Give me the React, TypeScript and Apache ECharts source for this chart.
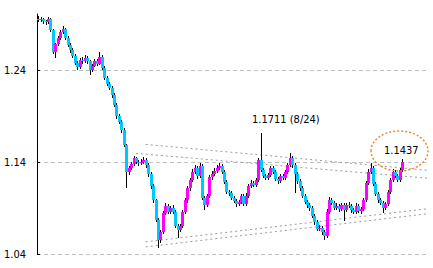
import React, { useEffect, useRef } from 'react';
import * as echarts from 'echarts';

const opens = [
  1.2960,1.2943,1.2954,1.2933,1.2922,1.2954,1.2835,1.2596,1.2683,1.2748,
  1.2813,1.2846,1.2748,1.2672,1.2617,1.2552,1.2476,1.2433,1.2509,1.2498,
  1.2531,1.2498,1.2400,1.2444,1.2498,1.2465,1.2541,1.2422,1.2313,1.2248,
  1.2204,1.2128,1.2020,1.1900,1.1835,1.1748,1.1585,1.1291,1.1335,1.1378,
  1.1444,1.1400,1.1389,1.1400,1.1422,1.1367,1.1270,1.1139,1.0987,1.0770,
  1.0552,1.0639,1.0846,1.0922,1.0857,1.0900,1.0857,1.0704,1.0661,1.0704,
  1.0857,1.0987,1.1117,1.1204,1.1291,1.1335,1.1248,1.1357,1.1009,1.0933,
  1.1030,1.1237,1.1270,1.1302,1.1335,1.1357,1.1291,1.1183,1.1074,1.1063,
  1.1009,1.0976,1.0943,1.0965,1.1030,1.0943,1.1030,1.1139,1.1172,1.1150,
  1.1204,1.1422,1.1313,1.1248,1.1226,1.1259,1.1335,1.1291,1.1215,1.1193,
  1.1248,1.1226,1.1291,1.1367,1.1444,1.1367,1.1270,1.1193,1.1117,1.1030,
  1.0965,1.0933,1.0900,1.0813,1.0748,1.0672,1.0683,1.0639,1.0596,1.0857,
  1.0987,1.0954,1.0900,1.0922,1.0889,1.0933,1.0878,1.0933,1.0922,1.0878,
  1.0857,1.0922,1.0867,1.0889,1.0987,1.1172,1.1291,1.1335,1.1161,1.1052,
  1.0987,1.0954,1.0900,1.0943,1.1074,1.1204,1.1291,1.1248,1.1204,1.1313,
];

const closes = [
  1.2943,1.2954,1.2933,1.2922,1.2954,1.2835,1.2596,1.2683,1.2748,1.2813,
  1.2846,1.2748,1.2672,1.2617,1.2552,1.2476,1.2433,1.2509,1.2498,1.2531,
  1.2498,1.2400,1.2444,1.2498,1.2465,1.2541,1.2422,1.2313,1.2248,1.2204,
  1.2128,1.2020,1.1900,1.1835,1.1748,1.1585,1.1291,1.1335,1.1378,1.1444,
  1.1400,1.1389,1.1400,1.1422,1.1367,1.1270,1.1139,1.0987,1.0770,1.0552,
  1.0639,1.0846,1.0922,1.0857,1.0900,1.0857,1.0704,1.0661,1.0704,1.0857,
  1.0987,1.1117,1.1204,1.1291,1.1335,1.1248,1.1357,1.1009,1.0933,1.1030,
  1.1237,1.1270,1.1302,1.1335,1.1357,1.1291,1.1183,1.1074,1.1063,1.1009,
  1.0976,1.0943,1.0965,1.1030,1.0943,1.1030,1.1139,1.1172,1.1150,1.1204,
  1.1422,1.1313,1.1248,1.1226,1.1259,1.1335,1.1291,1.1215,1.1193,1.1248,
  1.1226,1.1291,1.1367,1.1444,1.1367,1.1270,1.1193,1.1117,1.1030,1.0965,
  1.0933,1.0900,1.0813,1.0748,1.0672,1.0683,1.0639,1.0596,1.0857,1.0987,
  1.0954,1.0900,1.0922,1.0889,1.0933,1.0878,1.0933,1.0922,1.0878,1.0857,
  1.0922,1.0867,1.0889,1.0987,1.1172,1.1291,1.1335,1.1161,1.1052,1.0987,
  1.0954,1.0900,1.0943,1.1074,1.1204,1.1291,1.1248,1.1204,1.1313,1.1400,
];

const highs = [
  1.2985,1.2978,1.2970,1.2950,1.2976,1.2965,1.2850,1.2700,1.2775,1.2840,
  1.2878,1.2860,1.2770,1.2695,1.2640,1.2570,1.2500,1.2535,1.2540,1.2560,
  1.2550,1.2510,1.2470,1.2525,1.2520,1.2596,1.2560,1.2440,1.2335,1.2270,
  1.2225,1.2150,1.2040,1.1925,1.1860,1.1770,1.1600,1.1360,1.1400,1.1470,
  1.1460,1.1425,1.1430,1.1450,1.1440,1.1385,1.1290,1.1160,1.1000,1.0790,
  1.0665,1.0870,1.0950,1.0945,1.0925,1.0930,1.0880,1.0725,1.0730,1.0880,
  1.1010,1.1140,1.1230,1.1320,1.1370,1.1355,1.1390,1.1375,1.1030,1.1055,
  1.1260,1.1300,1.1330,1.1365,1.1389,1.1380,1.1310,1.1200,1.1100,1.1085,
  1.1030,1.1000,1.0990,1.1055,1.1050,1.1060,1.1165,1.1200,1.1195,1.1230,
  1.1445,1.1711,1.1335,1.1270,1.1285,1.1360,1.1355,1.1310,1.1240,1.1275,
  1.1270,1.1315,1.1395,1.1498,1.1465,1.1390,1.1295,1.1215,1.1140,1.1055,
  1.0990,1.0960,1.0925,1.0835,1.0770,1.0710,1.0705,1.0660,1.0885,1.1015,
  1.1010,1.0975,1.0950,1.0945,1.0960,1.0955,1.0960,1.0965,1.0945,1.0900,
  1.0950,1.0945,1.0915,1.1010,1.1195,1.1320,1.1389,1.1355,1.1180,1.1075,
  1.1010,1.0975,1.0970,1.1100,1.1230,1.1320,1.1315,1.1270,1.1340,1.1437,
];

const lows = [
  1.2925,1.2920,1.2905,1.2895,1.2900,1.2810,1.2575,1.2531,1.2660,1.2730,
  1.2795,1.2725,1.2650,1.2590,1.2530,1.2450,1.2400,1.2415,1.2470,1.2480,
  1.2470,1.2346,1.2380,1.2430,1.2440,1.2450,1.2400,1.2290,1.2225,1.2180,
  1.2100,1.1995,1.1870,1.1810,1.1720,1.1560,1.1117,1.1260,1.1310,1.1360,
  1.1375,1.1360,1.1365,1.1380,1.1340,1.1240,1.1110,1.0960,1.0745,1.0465,
  1.0520,1.0615,1.0820,1.0830,1.0835,1.0830,1.0680,1.0574,1.0635,1.0680,
  1.0830,1.0960,1.1090,1.1180,1.1270,1.1220,1.1225,1.0985,1.0878,1.0910,
  1.1010,1.1210,1.1245,1.1280,1.1310,1.1265,1.1160,1.1050,1.1035,1.0985,
  1.0950,1.0915,1.0920,1.0945,1.0920,1.0925,1.1010,1.1115,1.1125,1.1130,
  1.1185,1.1290,1.1225,1.1200,1.1205,1.1240,1.1265,1.1190,1.1165,1.1170,
  1.1200,1.1205,1.1270,1.1345,1.1340,1.1063,1.1165,1.1090,1.1005,1.0940,
  1.0905,1.0870,1.0790,1.0720,1.0645,1.0650,1.0610,1.0552,1.0575,1.0835,
  1.0930,1.0875,1.0880,1.0860,1.0865,1.0760,1.0855,1.0900,1.0850,1.0830,
  1.0835,1.0845,1.0840,1.0865,1.0965,1.1150,1.1270,1.1140,1.1030,1.0960,
  1.0930,1.0846,1.0880,1.0920,1.1050,1.1180,1.1225,1.1180,1.1185,1.1290,
];

// empty slots after the last candle (right margin of the plot)
const emptySlots = 10;

const yTicks = [1.04, 1.14, 1.24];
const yMin = 1.04;
const yMax = 1.301;

// dotted channel lines: [startIndex, startPrice, endIndex, endPrice]
const trendLines = [
  [44, 1.1592, 159, 1.1311],
  [40, 1.1494, 159, 1.1225],
  [44, 1.0532, 159, 1.0891],
  [44, 1.0477, 159, 1.0837],
];

const peakLabel = '1.1711 (8/24)';
const lastLabel = '1.1437';

const UP = '#FF00FF';
const DOWN = '#00C8FF';
const FONT = "'Liberation Sans Narrow', 'DejaVu Sans Condensed', 'Liberation Sans', sans-serif";

export default function App() {
  const ref = useRef<HTMLDivElement>(null);

  useEffect(() => {
    document.body.style.margin = '0';
    if (!ref.current) return;
    const chart = echarts.init(ref.current, undefined, { renderer: 'svg' });

    const total = closes.length + emptySlots;
    const categories = Array.from({ length: total }, (_, i) => String(i));

    const ohlc = closes.map((c, i) => [i, opens[i], c, lows[i], highs[i]]);

    const trendSeries = trendLines.map((t) => ({
      type: 'line',
      data: [[t[0], t[1]], [t[2], t[3]]],
      symbol: 'none',
      silent: true,
      z: 1,
      lineStyle: { color: '#9a9a9a', width: 1, type: [2, 3] },
    }));

    const renderItem = (_params: any, api: any) => {
      const i = api.value(0);
      const o = api.value(1);
      const c = api.value(2);
      const l = api.value(3);
      const h = api.value(4);
      const pO = api.coord([i, o]);
      const pC = api.coord([i, c]);
      const pL = api.coord([i, l]);
      const pH = api.coord([i, h]);
      const x = Math.round(pO[0]);
      const top = Math.round(Math.min(pO[1], pC[1]));
      const bot = Math.round(Math.max(pO[1], pC[1]));
      const yh = Math.round(pH[1]);
      const yl = Math.round(pL[1]);
      return {
        type: 'group',
        children: [
          {
            type: 'rect',
            shape: { x: x, y: yh, width: 1, height: Math.max(1, yl - yh) },
            style: { fill: '#000' },
          },
          {
            type: 'rect',
            shape: { x: x - 1, y: top, width: 3, height: Math.max(1, bot - top) },
            style: { fill: c >= o ? UP : DOWN },
          },
        ],
      };
    };

    chart.setOption({
      animation: false,
      backgroundColor: '#ffffff',
      grid: { left: 37, right: 5, top: 14, bottom: 14, containLabel: false },
      xAxis: {
        type: 'category',
        data: categories,
        boundaryGap: true,
        show: false,
      },
      yAxis: {
        type: 'value',
        min: yMin,
        max: yMax,
        axisLine: { show: true, lineStyle: { color: '#000', width: 1 } },
        axisTick: { show: true, inside: true, length: 3, lineStyle: { color: '#000' }, customValues: yTicks },
        axisLabel: {
          show: true,
          customValues: yTicks,
          margin: 11,
          color: '#000',
          fontSize: 11,
          fontFamily: FONT,
          formatter: (v: number) => v.toFixed(2),
        },
        splitLine: { show: false },
      },
      series: [
        ...trendSeries,
        {
          type: 'custom',
          name: 'EUR/USD',
          data: ohlc,
          encode: { x: 0, y: [1, 2, 3, 4] },
          renderItem,
          silent: true,
          z: 3,
          markLine: {
            silent: true,
            symbol: 'none',
            label: { show: false },
            lineStyle: { color: '#c0c0c0', type: [4, 3], width: 1 },
            data: yTicks.map((v) => ({ yAxis: v })),
            z: 0,
          },
        },
      ],
      graphic: [
        {
          type: 'text',
          left: 252,
          top: 114,
          style: { text: peakLabel, fill: '#000', font: `11px ${FONT}` },
          z: 10,
        },
        {
          type: 'ellipse',
          shape: { cx: 399.5, cy: 151, rx: 28.5, ry: 20 },
          style: { fill: 'none', stroke: '#F0882A', lineWidth: 1.5, lineDash: [2, 2] },
          z: 10,
        },
        {
          type: 'text',
          left: 384,
          top: 145,
          style: { text: lastLabel, fill: '#000', font: `11px ${FONT}` },
          z: 11,
        },
      ],
    });

    return () => chart.dispose();
  }, []);

  return <div ref={ref} style={{ width: 433, height: 268 }} />;
}
